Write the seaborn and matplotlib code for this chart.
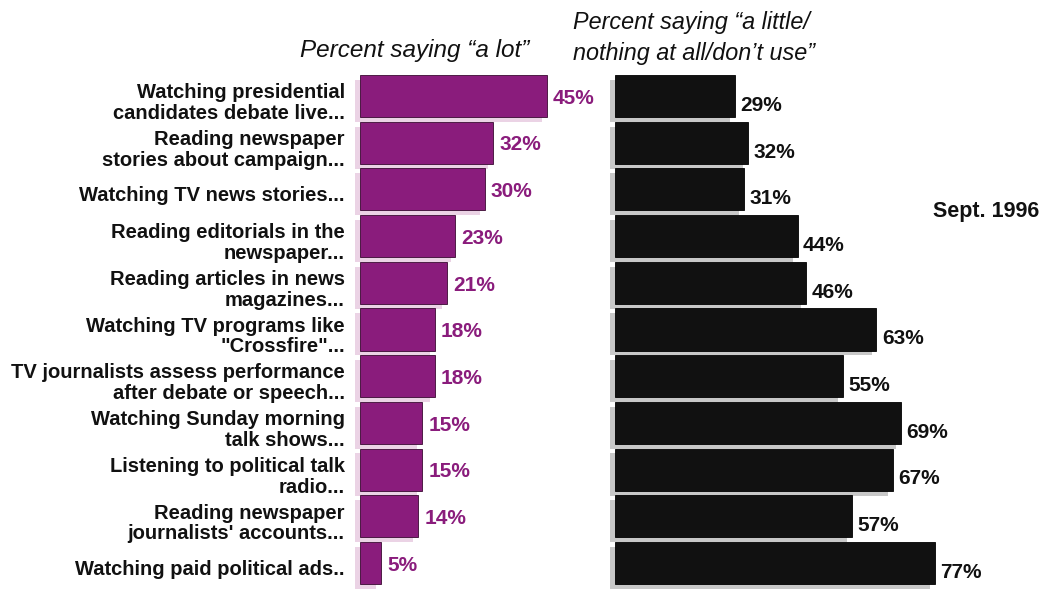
import pandas as pd
import seaborn as sns
import matplotlib.pyplot as plt
import matplotlib.patheffects as pe
import matplotlib.transforms as mtransforms

# Data
labels = [
    'Watching presidential\ncandidates debate live...',
    'Reading newspaper\nstories about campaign...',
    'Watching TV news stories...',
    'Reading editorials in the\nnewspaper...',
    'Reading articles in news\nmagazines...',
    'Watching TV programs like\n"Crossfire"...',
    'TV journalists assess performance\nafter debate or speech...',
    'Watching Sunday morning\ntalk shows...',
    'Listening to political talk\nradio...',
    'Reading newspaper\njournalists\' accounts...',
    'Watching paid political ads..',
]
a_lot = [45, 32, 30, 23, 21, 18, 18, 15, 15, 14, 5]
little_none = [29, 32, 31, 44, 46, 63, 55, 69, 67, 57, 77]

df = pd.DataFrame({'label': labels, 'a_lot': a_lot, 'little_none': little_none})

purple = '#8a1c7c'
black = '#111111'

sns.set_style('white')
plt.rcParams['font.family'] = ['Liberation Sans', 'DejaVu Sans']

fig = plt.figure(figsize=(10.43, 5.95), dpi=100)
W, H = 1043, 595

# axes placement in pixels
top_px, bottom_px = 72.6, 586.4
ax1 = fig.add_axes([360 / W, 1 - bottom_px / H, 207.5 / W, (bottom_px - top_px) / H])
ax2 = fig.add_axes([615 / W, 1 - bottom_px / H, 415 / W, (bottom_px - top_px) / H])

sns.barplot(data=df, y='label', x='a_lot', orient='h', color=purple,
            width=0.9, saturation=1, ax=ax1)
sns.barplot(data=df, y='label', x='little_none', orient='h', color=black,
            width=0.9, saturation=1, ax=ax2)

ax1.set_xlim(0, 50)
ax2.set_xlim(0, 100)
for ax in (ax1, ax2):
    ax.set_ylim(10.5, -0.5)
    ax.set_xlabel('')
    ax.set_ylabel('')
    ax.set_xticks([])
    sns.despine(ax=ax, left=True, bottom=True)

# 3D-ish extrusion to lower left
for p in ax1.patches:
    p.set_edgecolor('#3a0a32')
    p.set_linewidth(0.6)
    p.set_clip_on(False)
    p.set_path_effects([pe.SimplePatchShadow(offset=(-3.5, -3.5), shadow_rgbFace='#ebd3e5', alpha=1.0),
                        pe.Normal()])
for p in ax2.patches:
    p.set_edgecolor('#000000')
    p.set_linewidth(0.6)
    p.set_clip_on(False)
    p.set_path_effects([pe.SimplePatchShadow(offset=(-3.5, -3.5), shadow_rgbFace='#c8c8c8', alpha=1.0),
                        pe.Normal()])

ax1.tick_params(axis='y', length=0, pad=11)
ax1.set_yticks(range(len(labels)))
ax1.set_yticklabels(labels, fontsize=14.5, fontweight='bold', color='#111111',
                    linespacing=1.12)
# nudge the row labels down a little
shift = mtransforms.ScaledTranslation(0, -3 / 72, fig.dpi_scale_trans)
for t in ax1.get_yticklabels():
    t.set_transform(t.get_transform() + shift)
ax2.set_yticks([])

# value labels
for i, v in enumerate(a_lot):
    ax1.text(v + 1.5, i + 0.05, f'{v}%', va='center', ha='left', fontsize=15,
             fontweight='bold', color=purple)
for i, v in enumerate(little_none):
    ax2.text(v + 1.3, i + 0.2, f'{v}%', va='center', ha='left', fontsize=15,
             fontweight='bold', color='#111111')

# headers
fig.text(415 / W, 1 - 50 / H, 'Percent saying \u201ca lot\u201d', ha='center', va='center',
         fontsize=17.5, fontstyle='italic', color='#111111')
fig.text(573 / W, 1 - 38 / H, 'Percent saying \u201ca little/\nnothing at all/don\u2019t use\u201d',
         ha='left', va='center', fontsize=16.8, fontstyle='italic', color='#111111',
         linespacing=1.4)
fig.text(986 / W, 1 - 211 / H, 'Sept. 1996', ha='center', va='center', fontsize=15.5,
         fontweight='bold', color='#111111')

fig.savefig('out.png', dpi=100)
